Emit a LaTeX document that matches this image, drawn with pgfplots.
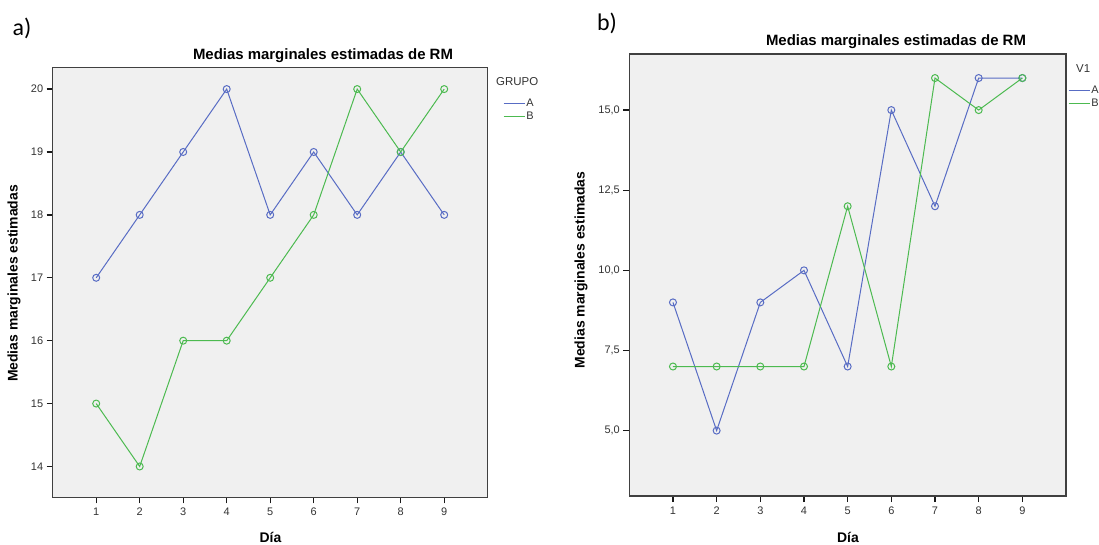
\documentclass[border=0pt]{standalone}
\usepackage{fontspec}
\setmainfont{Liberation Sans}
\newfontfamily\carl{Carlito}
\usepackage{pgfplots}
\pgfplotsset{compat=1.18}
\definecolor{serA}{RGB}{88,108,196}
\definecolor{serB}{RGB}{76,186,80}
\definecolor{plotbg}{RGB}{240,240,240}
\pgfplotsset{spss/.style={
  scale only axis,
  axis background/.style={fill=plotbg},
  xmin=0, xmax=10, xtick={1,...,9},
  tick align=outside, major tick length=6bp,
  xtick pos=bottom, ytick pos=left,
  axis line style={line width=1.2bp, black!75},
  major tick style={black!90, line width=1.4bp},
  tick label style={font=\fontsize{11}{13}\selectfont, text=black!80},
  xticklabel style={yshift=-1bp},
  /pgf/number format/assume math mode=true,
  every axis plot/.append style={line width=1bp, mark=o, mark size=3.5bp, mark options={line width=1bp}},
  legend style={draw=none, fill=none, font=\fontsize{11}{13}\selectfont, inner sep=0pt, row sep=2.5bp,
    nodes={inner sep=1.2bp, text=black!80}},
  legend image code/.code={\draw[#1, line width=1bp] (0bp,0bp) -- (21bp,0bp);},
  legend cell align=left,
}}
\begin{document}
\begin{tikzpicture}
\path[use as bounding box] (0,0) rectangle (1099bp,545bp);
% ---------- panel a ----------
\begin{axis}[spss, at={(52.7bp,47.7bp)}, anchor=south west,
  width=435bp, height=429.6bp,
  ymin=13.51, ymax=20.34, ytick={14,...,20},
  legend style={at={(axis description cs:1.035,0.9016)}, anchor=west}]
\addplot[serA] coordinates {(1,17) (2,18) (3,19) (4,20) (5,18) (6,19) (7,18) (8,19) (9,18)};
\addlegendentry{A}
\addplot[serB] coordinates {(1,15) (2,14) (3,16) (4,16) (5,17) (6,18) (7,20) (8,19) (9,20)};
\addlegendentry{B}
\end{axis}
% ---------- panel b ----------
\begin{axis}[spss, at={(629.3bp,49bp)}, anchor=south west,
  width=436.7bp, height=442bp,
  ymin=2.96, ymax=16.75, ytick={5,7.5,10,12.5,15},
  yticklabel style={/pgf/number format/.cd, fixed, fixed zerofill, precision=1, use comma},
  legend style={at={(axis description cs:1.0046,0.9027)}, anchor=west}]
\addplot[serA] coordinates {(1,9) (2,5) (3,9) (4,10) (5,7) (6,15) (7,12) (8,16) (9,16)};
\addlegendentry{A}
\addplot[serB] coordinates {(1,7) (2,7) (3,7) (4,7) (5,12) (6,7) (7,16) (8,15) (9,16)};
\addlegendentry{B}
\end{axis}
% ---------- texts ----------
\node[font=\carl\fontsize{24}{28}\selectfont] at (22bp,517bp) {a)};
\node[font=\carl\fontsize{24}{28}\selectfont] at (607bp,522bp) {b)};
\node[font=\bfseries\fontsize{15}{18}\selectfont] at (323bp,489bp) {Medias marginales estimadas de RM};
\node[font=\bfseries\fontsize{15}{18}\selectfont] at (896bp,503bp) {Medias marginales estimadas de RM};
\node[font=\bfseries\fontsize{14}{17}\selectfont, rotate=90] at (14bp,261.5bp) {Medias marginales estimadas};
\node[font=\bfseries\fontsize{14}{17}\selectfont, rotate=90] at (581bp,275bp) {Medias marginales estimadas};
\node[font=\bfseries\fontsize{14}{17}\selectfont] at (270.5bp,8bp) {Día};
\node[font=\bfseries\fontsize{14}{17}\selectfont] at (848bp,8bp) {Día};
\node[font=\fontsize{11.5}{13}\selectfont, anchor=west, inner sep=0pt, text=black!80] at (496bp,463bp) {GRUPO};
\node[font=\fontsize{11.5}{13}\selectfont, anchor=west, inner sep=0pt, text=black!80] at (1076bp,476bp) {V1};
\end{tikzpicture}
\end{document}
